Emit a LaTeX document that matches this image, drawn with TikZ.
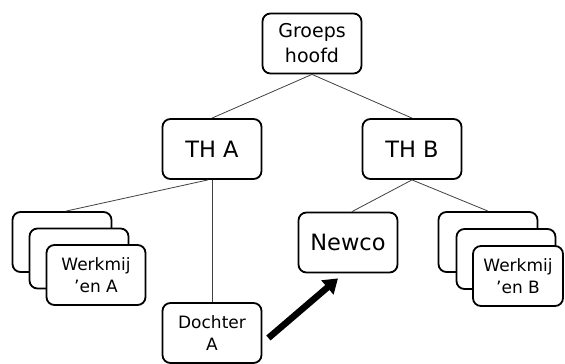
\documentclass[tikz,border=0pt]{standalone}
\usepackage{fontspec}
\setmainfont{DejaVu Sans}
\usepackage{tikz}
\usetikzlibrary{arrows.meta, positioning}
\newcommand{\bigtxt}{\fontsize{22.5}{26}\selectfont}
\newcommand{\midtxt}{\fontsize{19}{25}\selectfont}
\newcommand{\smalltxt}{\fontsize{17}{22}\selectfont}

\begin{document}
\begin{tikzpicture}[x=1pt, y=-1pt,
    orgbox/.style={draw, line width=1.8pt, rounded corners=8pt, fill=white, minimum width=99pt, minimum height=60pt, align=center, inner sep=2pt},
    link/.style={line width=0.8pt, black!75},
    bigarr/.style={-{Triangle[length=14pt, width=18pt]}, line width=6.5pt}
]
    \useasboundingbox (0,0) rectangle (565,364);

    % Top of the group
    \node[orgbox, font=\midtxt] (groeps) at (312,43.5) {Groeps\\hoofd};

    % Holdings
    \node[orgbox, font=\bigtxt] (tha) at (212,149) {TH A};
    \node[orgbox, font=\bigtxt] (thb) at (412,149) {TH B};

    % Werkmij'en A (stack of three)
    \node[orgbox] (wa1) at (62,242) {};
    \node[orgbox] (wa2) at (79,258.5) {};
    \node[orgbox, font=\smalltxt] (wa3) at (96,275) {Werkmij\\’en A};

    % Werkmij'en B (stack of three)
    \node[orgbox] (wb1) at (488,242) {};
    \node[orgbox] (wb2) at (506,259) {};
    \node[orgbox, font=\smalltxt, minimum width=90pt] (wb3) at (518,276) {Werkmij\\’en B};

    % Newco and Dochter A
    \node[orgbox, font=\bigtxt] (newco) at (348,242.5) {Newco};
    \node[orgbox, font=\smalltxt] (dochter) at (212,333) {Dochter\\A};

    % Connections
    \draw[link] (groeps.south) -- (tha.north);
    \draw[link] (groeps.south) -- (thb.north);
    \draw[link] ([xshift=-4pt]tha.south) -- ([xshift=4pt]wa1.north);
    \draw[link] (tha.south) -- (dochter.north);
    \draw[link] (thb.south) -- ([xshift=4pt]newco.north);
    \draw[link] (thb.south) -- (wb1.north);

    % Move of Dochter A
    \draw[bigarr] ([xshift=6pt, yshift=-5pt]dochter.east) -- ([xshift=-10pt, yshift=-5pt]newco.south);
\end{tikzpicture}
\end{document}
